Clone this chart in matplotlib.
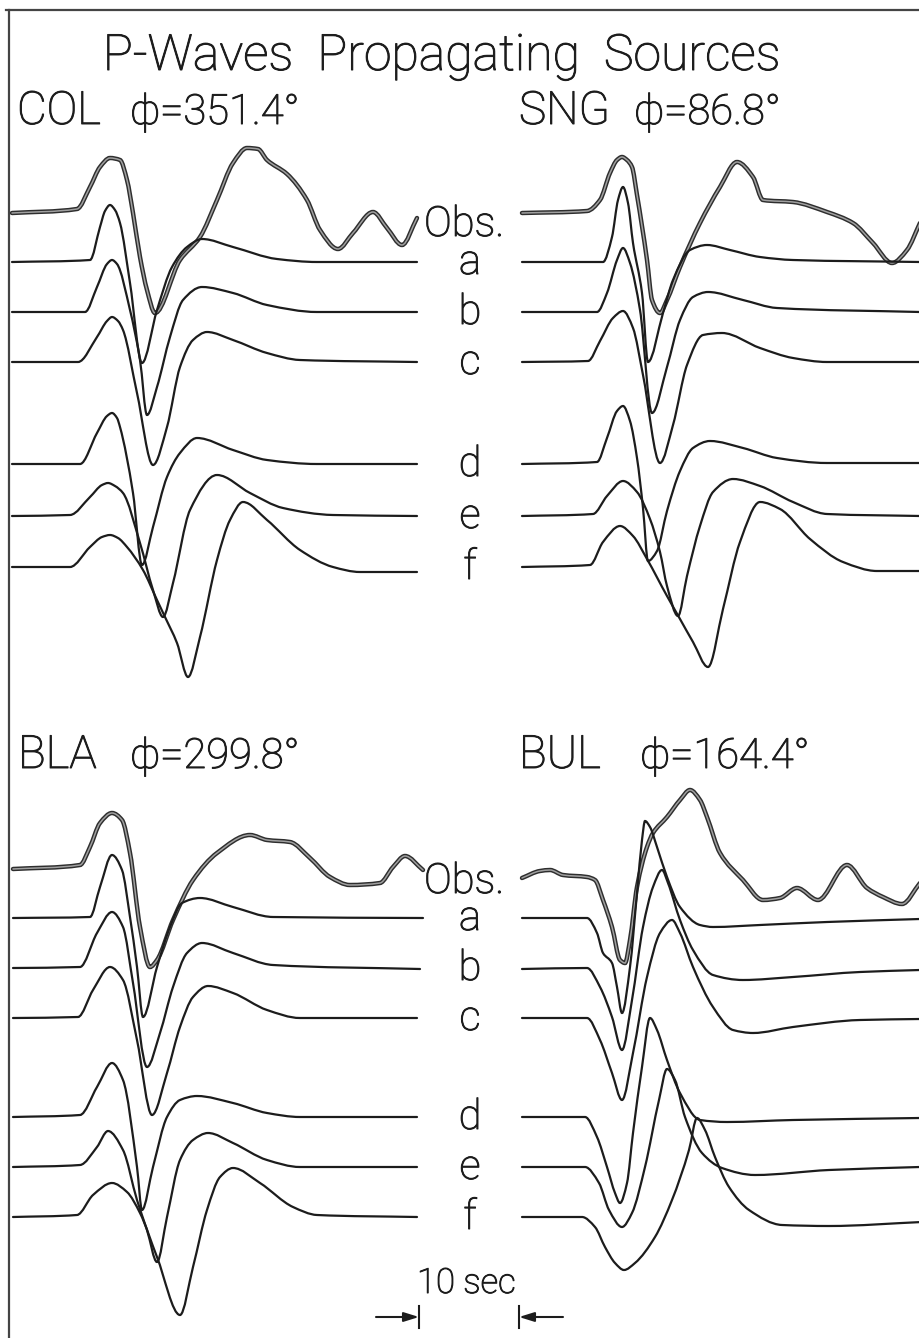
import matplotlib
matplotlib.use('Agg')
import matplotlib.pyplot as plt
import matplotlib.patheffects as pe
from matplotlib.path import Path
from matplotlib.patches import PathPatch

# page is laid out in pixel units; 10 units = 1 sec, 10 units = 1 amplitude unit
PX_PER_SEC = 10.0
PX_PER_AMP = 10.0

trace_names = ['Obs.', 'a', 'b', 'c', 'd', 'e', 'f']
top_baselines = [212, 262, 312, 362, 464, 516, 567]
bottom_baselines = [869, 918, 968, 1018, 1117, 1167, 1217]

# (time in sec, amplitude) for each trace
col = {
    'Obs.': ([0, 6.5, 7.8, 8.8, 9.8, 10.8, 11.5, 12.1, 12.8, 13.5, 14.3, 16.8, 18.8, 20.5, 22.1, 23.5,
              24.6, 25.5, 27.5, 29.5, 30.8, 32.6, 34.1, 36.1, 37.5, 39.0, 40.5],
             [-0.1, 0.3, 2.5, 4.5, 5.4, 5.2, 3.2, -0.1, -4.5, -7.8, -10.1, -4.8, -2.5, 1.2, 4.9, 6.4,
              6.3, 5.2, 3.8, 1.2, -1.8, -3.7, -2.1, 0.0, -1.6, -3.3, -0.6]),
    'a': ([0, 7.8, 8.8, 9.3, 9.8, 10.3, 10.8, 11.8, 13.0, 14.5, 16.0, 17.5, 19.0, 22.1, 26.5, 30.5, 40.5],
          [0, 0.2, 3.5, 5.1, 5.7, 5.2, 3.9, -2.1, -10.1, -4.8, -0.5, 1.5, 2.3, 1.5, 0.3, 0, 0]),
    'b': ([0, 7.3, 8.5, 9.5, 10.0, 10.5, 11.8, 12.8, 13.5, 14.5, 15.8, 17.1, 19.0, 22.1, 25.5, 30.5, 40.5],
          [0, 0, 2.5, 4.8, 5.2, 4.8, 0.2, -4.8, -10.3, -7.5, -2.5, 1.2, 2.5, 1.9, 0.7, 0, 0]),
    'c': ([0, 6.6, 8.5, 9.5, 10.0, 10.6, 11.1, 12.5, 14.1, 15.5, 16.8, 18.1, 19.5, 22.1, 25.5, 28.8, 40.5],
          [0, 0, 2.5, 4.1, 4.5, 4.1, 3.2, -3.1, -10.3, -6.5, -0.5, 2.2, 3.0, 2.2, 0.9, 0.2, 0]),
    'd': ([0, 6.8, 8.5, 9.5, 10.0, 10.5, 10.8, 12.1, 13.0, 14.1, 15.5, 16.8, 18.5, 22.1, 25.5, 30.5, 40.5],
          [0, 0, 3.1, 4.8, 5.1, 4.6, 3.7, -2.9, -10.1, -6.3, -1.3, 1.1, 2.6, 1.4, 0.4, 0, 0]),
    'e': ([0, 5.8, 7.8, 9.0, 9.6, 10.3, 11.1, 12.8, 14.1, 15.1, 16.1, 17.8, 20.5, 23.8, 27.1, 32.1, 40.5],
          [0, 0.1, 1.9, 3.1, 3.3, 3.0, 2.3, -2.7, -7.4, -10.1, -6.7, 0.6, 4.1, 2.3, 0.8, 0.1, 0]),
    'f': ([0, 5.8, 7.8, 9.0, 9.8, 10.6, 11.5, 13.1, 14.5, 15.3, 16.5, 17.6, 18.8, 20.5, 21.8, 23.1, 25.5,
           28.8, 32.1, 34.8, 40.5],
          [0, 0, 2.0, 3.0, 3.2, 2.9, 2.0, -0.3, -3.3, -5.0, -7.6, -11.0, -7.0, 0.7, 4.7, 6.5, 4.7,
           1.7, 0, -0.5, -0.5]),
}

sng = {
    'Obs.': ([0, 6.5, 7.8, 8.8, 9.5, 10.0, 10.5, 11.0, 11.5, 12.5, 13.0, 13.8, 14.5, 15.8, 17.8, 19.8,
              21.5, 23.1, 24.1, 27.1, 30.5, 33.1, 35.1, 37.0, 38.5, 39.8],
             [-0.1, 0.1, 1.2, 3.9, 5.2, 5.5, 5.2, 4.5, 1.7, -4.8, -8.8, -10.1, -8.8, -5.5, -1.1, 2.5,
              5.0, 3.5, 1.2, 1.0, 0, -1.1, -3.1, -5.1, -3.8, -1.1]),
    'a': ([0, 8.1, 9.0, 9.6, 10.1, 10.6, 11.1, 12.0, 12.6, 14.1, 15.1, 16.8, 18.5, 20.8, 23.8, 27.1, 39.8],
          [0, 0, 2.5, 6.2, 7.5, 5.9, 1.9, -3.1, -10.0, -5.1, -1.8, 1.2, 1.7, 1.2, 0.5, 0.2, 0]),
    'b': ([0, 7.5, 8.5, 9.5, 10.1, 10.8, 11.8, 13.0, 14.5, 15.8, 17.1, 18.6, 22.1, 25.5, 39.8],
          [0, 0, 1.9, 5.2, 6.4, 4.9, 0.2, -10.1, -5.5, -0.8, 1.5, 2.0, 1.2, 0.4, 0]),
    'c': ([0, 6.6, 7.8, 9.1, 10.1, 11.1, 12.1, 13.8, 15.1, 16.5, 18.1, 20.0, 23.8, 27.1, 30.5, 39.8],
          [0, 0.1, 2.1, 4.4, 5.1, 3.4, -1.3, -10.1, -6.3, -0.3, 2.7, 2.9, 1.4, 0.4, 0, 0]),
    'd': ([0, 7.5, 8.5, 9.5, 10.1, 10.8, 11.5, 12.1, 12.6, 13.5, 14.5, 15.8, 17.1, 18.8, 22.1, 25.5, 30.5, 39.8],
          [0, 0.2, 2.6, 5.3, 5.8, 4.3, 0.6, -4.4, -9.7, -8.7, -4.7, -0.7, 1.6, 2.3, 1.6, 0.6, 0.1, 0.1]),
    'e': ([0, 7.1, 8.5, 10.1, 11.5, 12.8, 13.8, 14.5, 15.6, 16.5, 17.8, 19.1, 21.1, 23.8, 27.1, 30.5, 39.8],
          [0, 0.2, 2.0, 3.5, 2.4, -0.3, -3.6, -7.0, -10.0, -6.0, -1.0, 2.4, 3.7, 3.0, 1.4, 0.2, 0]),
    'f': ([0, 6.8, 8.1, 9.8, 11.1, 12.5, 14.5, 15.8, 17.1, 18.6, 20.1, 21.8, 23.8, 25.8, 28.8, 32.1, 35.5, 39.8],
          [0, 0.2, 2.5, 4.1, 3.1, 0.8, -2.9, -5.2, -7.5, -10.0, -4.2, 2.5, 6.5, 5.8, 2.8, 0.5, -0.4, -0.4]),
}

bla = {
    'Obs.': ([0, 6.7, 7.7, 8.7, 9.9, 10.9, 11.7, 12.7, 13.7, 14.4, 16.0, 18.0, 20.4, 23.7, 25.4, 27.7,
              29.7, 31.7, 33.7, 36.7, 38.0, 39.2, 41.0],
             [0, 0.4, 2.2, 4.6, 5.6, 4.9, 1.6, -5.8, -9.8, -9.1, -5.1, -1.1, 1.6, 3.4, 2.9, 2.7,
              1.1, -0.8, -1.6, -1.4, 0.2, 1.3, -0.1]),
    'a': ([0, 7.7, 8.7, 9.9, 10.9, 11.7, 12.4, 13.0, 14.4, 15.7, 16.9, 18.7, 22.0, 26.0, 41.0],
          [0, 0.1, 3.1, 6.3, 4.8, 0.1, -4.9, -9.9, -4.9, -0.9, 1.5, 2.0, 1.1, 0.1, 0]),
    'b': ([0, 6.7, 8.4, 9.9, 11.0, 12.0, 13.4, 14.7, 16.0, 17.4, 18.9, 22.0, 26.0, 40.7],
          [0, 0.1, 3.5, 5.6, 4.1, -1.5, -9.9, -6.5, -1.9, 1.5, 2.5, 1.5, 0.3, -0.1]),
    'c': ([0, 6.5, 8.0, 9.7, 11.0, 12.4, 13.9, 15.4, 16.7, 18.0, 19.5, 22.0, 25.4, 28.7, 40.4],
          [0, 0.1, 2.8, 5.1, 3.8, -2.2, -9.7, -5.5, -0.9, 2.1, 3.2, 2.5, 0.8, 0, 0]),
    'd': ([0, 6.7, 8.4, 9.9, 11.0, 12.4, 12.9, 14.0, 15.4, 16.7, 18.4, 22.0, 25.4, 28.7, 40.4],
          [0, 0.2, 3.0, 5.4, 3.7, -5.0, -9.3, -5.0, 0, 1.7, 2.1, 1.4, 0.4, 0, 0]),
    'e': ([0, 6.7, 8.4, 9.5, 11.0, 12.4, 13.4, 14.4, 15.4, 16.7, 18.0, 19.5, 22.0, 25.4, 28.7, 40.4],
          [0, 0.2, 2.0, 3.6, 1.7, -3.3, -6.3, -9.5, -5.0, 0.7, 2.7, 3.4, 2.4, 0.7, 0, 0]),
    'f': ([0, 6.4, 8.0, 9.9, 11.4, 12.7, 14.4, 16.7, 18.0, 19.4, 20.7, 22.0, 24.7, 28.0, 30.4, 40.4],
          [0, 0.2, 2.2, 3.4, 2.5, 0.4, -4.0, -9.8, -5.0, 0.7, 4.0, 4.9, 3.4, 1.0, 0.2, 0]),
}

bul = {
    'Obs.': ([0, 1.8, 2.8, 4.1, 6.5, 7.3, 8.1, 9.0, 9.8, 10.3, 10.8, 11.5, 12.5, 13.1, 14.5, 15.8,
              16.8, 17.8, 18.5, 19.8, 22.1, 24.1, 25.8, 27.5, 29.6, 32.5, 34.5, 36.1, 38.0, 39.8],
             [-0.9, -0.2, -0.1, -0.6, -0.8, -1.1, -3.1, -5.8, -9.1, -9.4, -7.1, -1.8, 2.2, 3.6, 5.2, 6.9,
              7.9, 6.9, 5.2, 1.6, -1.1, -3.1, -2.9, -1.9, -3.1, 0.4, -1.9, -2.8, -3.5, -1.4]),
    'a': ([0, 6.5, 7.5, 8.1, 9.0, 9.5, 10.0, 10.8, 11.5, 12.0, 12.3, 12.8, 13.5, 14.5, 15.8, 17.8,
           19.1, 23.8, 30.5, 39.8],
          [0, 0, -1.5, -3.5, -4.5, -6.9, -9.5, -4.9, 2.5, 7.8, 9.7, 9.1, 7.1, 4.1, 1.1, -0.7,
           -0.9, -0.7, -0.4, -0.1]),
    'b': ([0, 6.5, 7.8, 9.0, 10.0, 11.0, 12.1, 13.1, 14.0, 14.6, 15.8, 17.1, 19.1, 22.1, 27.1, 33.8, 39.8],
          [-0.1, 0, -1.9, -4.9, -8.2, -3.2, 4.1, 8.1, 9.8, 8.5, 4.8, 1.8, -0.7, -1.2, -0.9, -0.4, -0.2]),
    'c': ([0, 6.5, 7.8, 9.0, 10.0, 11.1, 12.5, 13.8, 15.0, 15.8, 17.1, 19.1, 21.1, 23.1, 27.1, 33.8, 39.8],
          [0, 0, -2.2, -5.5, -8.2, -3.5, 4.1, 8.5, 9.8, 8.5, 5.1, 1.1, -1.2, -1.5, -0.9, -0.2, -0.1]),
    'd': ([0, 6.3, 7.5, 8.5, 9.3, 9.8, 10.5, 11.1, 12.0, 12.8, 13.5, 14.5, 15.8, 17.8, 20.5, 27.1, 39.8],
          [0, 0, -2.0, -5.0, -7.6, -8.6, -6.6, -1.6, 5.0, 9.9, 8.7, 5.7, 2.4, -0.3, -0.5, -0.3, -0.1]),
    'e': ([0, 6.3, 7.7, 8.7, 10.0, 11.0, 12.3, 13.7, 14.5, 15.3, 16.3, 18.0, 20.0, 23.3, 30.7, 39.8],
          [0, 0, -1.6, -4.3, -6.0, -4.6, 0, 6.7, 9.8, 8.7, 5.0, 1.4, -0.1, -0.8, -0.3, 0]),
    'f': ([0, 6.0, 7.3, 8.3, 9.3, 10.2, 11.3, 13.3, 15.0, 16.7, 17.5, 18.3, 19.3, 20.7, 22.7, 26.0, 30.7, 40.0],
          [0, 0, -1.0, -3.0, -4.6, -5.3, -4.6, -2.0, 1.7, 6.7, 9.9, 8.7, 6.0, 3.0, 0.7, -0.8, -0.9, -0.5]),
}

# station, azimuth, traces, trace start x, baselines, name x, phi x, label baseline y
panels = [
    ('COL', '351.4°', col, 12, top_baselines, 17, 130, 124),
    ('SNG', '86.8°', sng, 522, top_baselines, 519, 634, 124),
    ('BLA', '299.8°', bla, 13, bottom_baselines, 18, 130, 768),
    ('BUL', '164.4°', bul, 522, bottom_baselines, 519, 640, 768),
]


def trace_path(xs, ys):
    # smooth cubic through the read points (monotone slopes, so no overshoot)
    n = len(xs)
    h = [xs[i + 1] - xs[i] for i in range(n - 1)]
    d = [(ys[i + 1] - ys[i]) / h[i] for i in range(n - 1)]
    m = [d[0]] + [0.0] * (n - 2) + [d[-1]]
    for i in range(1, n - 1):
        if d[i - 1] * d[i] > 0:
            w1 = 2 * h[i] + h[i - 1]
            w2 = h[i] + 2 * h[i - 1]
            m[i] = (w1 + w2) / (w1 / d[i - 1] + w2 / d[i])
    verts = [(xs[0], ys[0])]
    codes = [Path.MOVETO]
    for i in range(n - 1):
        verts += [(xs[i] + h[i] / 3, ys[i] + m[i] * h[i] / 3),
                  (xs[i + 1] - h[i] / 3, ys[i + 1] - m[i + 1] * h[i] / 3),
                  (xs[i + 1], ys[i + 1])]
        codes += [Path.CURVE4] * 3
    return Path(verts, codes)


ink = '#1c1c1c'
plt.rcParams['font.family'] = ['Roboto', 'DejaVu Sans']
plt.rcParams['font.weight'] = 'light'
# a touch of stroke so the light face reads like pen lettering
pen = [pe.withStroke(linewidth=0.7, foreground=ink)]

fig = plt.figure(figsize=(9.2, 13.38), dpi=100)
ax = fig.add_axes([0, 0, 1, 1])
ax.set_xlim(0, 920)
ax.set_ylim(1338, 0)
ax.axis('off')

# frame
ax.plot([9.5, 9.5], [10, 1338], color='#444444', lw=1.6)
ax.plot([6, 920], [10, 10], color='#444444', lw=1.6)

ax.text(442, 70, 'P-Waves  Propagating  Sources', ha='center', va='baseline',
        fontsize=36, color=ink, path_effects=pen)

obs_fx = [pe.Stroke(linewidth=3.2, foreground='#2e2e2e'), pe.Normal()]

for name, az, traces, x0, bases, nx, px, ly in panels:
    ax.text(nx, ly, name, ha='left', va='baseline', fontsize=33, color=ink, path_effects=pen)
    ax.text(px, ly, 'ϕ=' + az, ha='left', va='baseline', fontsize=30, color=ink, path_effects=pen)
    for key, base in zip(trace_names, bases):
        t, amp = traces[key]
        xs = [x0 + v * PX_PER_SEC for v in t]
        ys = [base - v * PX_PER_AMP for v in amp]
        if key == 'Obs.':
            patch = PathPatch(trace_path(xs, ys), fill=False, edgecolor='#a0a0a0',
                              lw=1.1, path_effects=obs_fx, capstyle='round')
        else:
            patch = PathPatch(trace_path(xs, ys), fill=False, edgecolor='#1c1c1c',
                              lw=1.6, capstyle='round')
        ax.add_patch(patch)

# trace labels in the middle column
for bases, obs_y in [(top_baselines, 236), (bottom_baselines, 893)]:
    ax.text(424, obs_y, 'Obs.', ha='left', va='baseline', fontsize=30, color=ink, path_effects=pen)
    for key, base in zip(trace_names[1:], bases[1:]):
        ax.text(470, base + 12, key, ha='center', va='baseline', fontsize=30, color=ink,
                path_effects=pen)

# 10 sec scale bar
scale_sec = 10
bar_left = 419
bar_right = bar_left + scale_sec * PX_PER_SEC
bar_y = 1317
ax.text(417, 1293, '10 sec', ha='left', va='baseline', fontsize=25, color=ink, path_effects=pen)
for xb in (bar_left, bar_right):
    ax.plot([xb, xb], [bar_y - 11, bar_y + 11], color=ink, lw=1.5)
arrow = dict(arrowstyle='-|>,head_length=0.9,head_width=0.28', color=ink, lw=1.5,
             shrinkA=0, shrinkB=0)
ax.annotate('', xy=(bar_left, bar_y), xytext=(bar_left - 43, bar_y), arrowprops=arrow)
ax.annotate('', xy=(bar_right, bar_y), xytext=(bar_right + 44, bar_y), arrowprops=arrow)

fig.savefig('out.png', dpi=100, facecolor='white')
